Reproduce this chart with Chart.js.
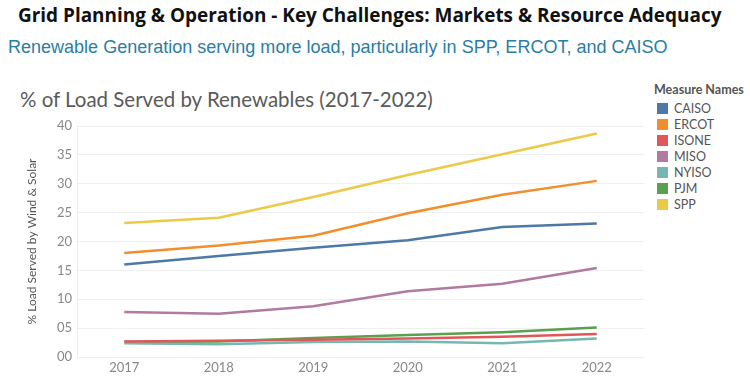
<!DOCTYPE html>
<html>
<head>
<meta charset="utf-8">
<script src="https://cdn.jsdelivr.net/npm/chart.js@4"></script>
<style>
  html, body { margin: 0; padding: 0; background: #fff; }
  body { width: 750px; height: 376px; position: relative; overflow: hidden; }
  .fit { position: absolute; white-space: nowrap; line-height: 1; }
  #h1 { left: 18px; top: 6px; font-family: "Open Sans", sans-serif; font-weight: 700; color: #111; font-size: 20px; }
  #h2 { left: 8px; top: 38px; font-family: "Liberation Sans", Arial, sans-serif; color: #2a7ea3; font-size: 17px; }
  #h3 { left: 20px; top: 89px; font-family: Lato, sans-serif; color: #5a5a5a; font-size: 21px; }
  #legend { position: absolute; left: 654px; top: 82px; font-family: Lato, sans-serif; color: #555; font-size: 12.5px; }
  #legend .t { font-weight: 700; margin-bottom: 3px; }
  #legend .i { height: 16px; display: flex; align-items: center; }
  #legend .s { width: 11px; height: 11px; margin: 0 6px 0 3px; }
  #wrap { position: absolute; left: 0; top: 110px; width: 750px; height: 266px; }
</style>
</head>
<body>
<div id="h1" class="fit" data-w="704">Grid Planning &amp; Operation - Key Challenges: Markets &amp; Resource Adequacy</div>
<div id="h2" class="fit" data-w="660">Renewable Generation serving more load, particularly in SPP, ERCOT, and CAISO</div>
<div id="h3" class="fit" data-w="413">% of Load Served by Renewables (2017-2022)</div>
<div id="legend"></div>
<div id="wrap"><canvas id="c"></canvas></div>
<script>
const years = ["2017", "2018", "2019", "2020", "2021", "2022"];
const seriesNames = ["CAISO", "ERCOT", "ISONE", "MISO", "NYISO", "PJM", "SPP"];
const CAISO = [16.0, 17.5, 18.9, 20.2, 22.5, 23.1];
const ERCOT = [18.0, 19.3, 21.0, 24.9, 28.1, 30.5];
const ISONE = [2.7, 2.8, 3.0, 3.2, 3.5, 4.0];
const MISO  = [7.8, 7.5, 8.8, 11.4, 12.7, 15.4];
const NYISO = [2.4, 2.2, 2.6, 2.7, 2.4, 3.2];
const PJM   = [2.6, 2.7, 3.3, 3.8, 4.3, 5.1];
const SPP   = [23.2, 24.1, 27.7, 31.5, 35.1, 38.7];
const yTicks = [0, 5, 10, 15, 20, 25, 30, 35, 40];

const colors = {
  CAISO: "#4e79a7", ERCOT: "#f28e2b", ISONE: "#e15759", MISO: "#b07aa1",
  NYISO: "#76b7b2", PJM: "#59a14f", SPP: "#edc948"
};
const values = { CAISO, ERCOT, ISONE, MISO, NYISO, PJM, SPP };

document.querySelectorAll('.fit').forEach(el => {
  const target = +el.dataset.w;
  let fs = parseFloat(getComputedStyle(el).fontSize);
  for (let k = 0; k < 4; k++) {
    const w = el.getBoundingClientRect().width;
    fs = fs * target / w;
    el.style.fontSize = fs + 'px';
  }
});

const lg = document.getElementById('legend');
lg.innerHTML = '<div class="t">Measure Names</div>' + seriesNames.map(n =>
  `<div class="i"><div class="s" style="background:${colors[n]}"></div>${n}</div>`).join('');

new Chart(document.getElementById('c'), {
  type: 'line',
  data: {
    labels: years,
    datasets: seriesNames.map(n => ({
      label: n,
      data: values[n],
      borderColor: colors[n],
      backgroundColor: colors[n],
      borderWidth: 2.5,
      pointRadius: 0,
      tension: 0,
      fill: false
    }))
  },
  options: {
    responsive: true,
    maintainAspectRatio: false,
    animation: false,
    layout: { padding: { left: 0, right: 106, top: 16, bottom: 0 } },
    plugins: { legend: { display: false }, tooltip: { enabled: false }, title: { display: false } },
    scales: {
      x: {
        offset: true,
        grid: { display: false },
        border: { display: false },
        ticks: { color: '#888', font: { family: 'Lato', size: 13 }, padding: -5, maxRotation: 0 },
        afterFit: s => { s.height = 19; }
      },
      y: {
        min: 0, max: 40,
        afterBuildTicks: s => { s.ticks = yTicks.map(v => ({ value: v })); },
        ticks: {
          color: '#888', font: { family: 'Lato', size: 13 }, padding: 5,
          callback: v => String(v).padStart(2, '0')
        },
        grid: { color: '#efefef', lineWidth: 1, drawTicks: false },
        border: { display: true, color: '#ececec' },
        title: {
          display: true, text: '% Load Served by Wind & Solar', color: '#555',
          font: { family: 'Lato', size: 12 }, padding: { top: 25, bottom: 0 }
        },
        afterFit: s => { s.width = 77; }
      }
    }
  }
});
</script>
</body>
</html>
